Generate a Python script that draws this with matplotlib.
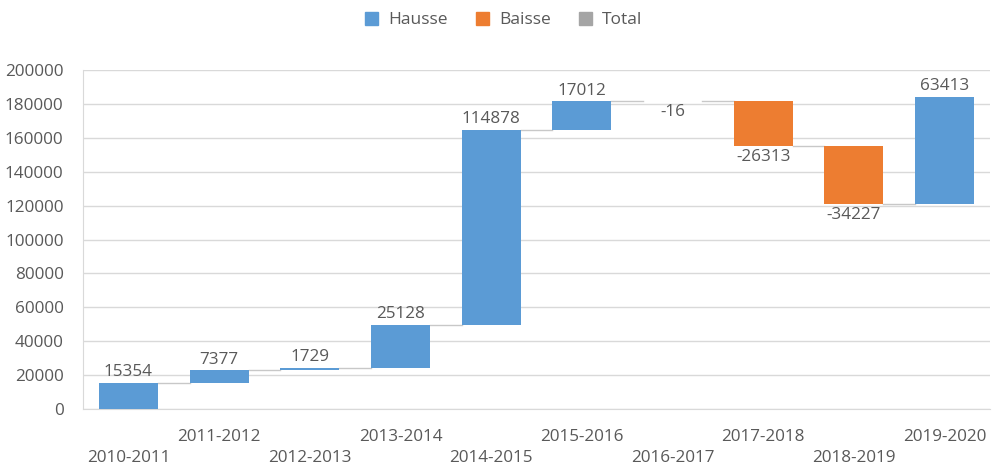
import matplotlib
matplotlib.use("Agg")
import matplotlib.pyplot as plt
from matplotlib.patches import Patch
import numpy as np

categories = ["2010-2011", "2011-2012", "2012-2013", "2013-2014", "2014-2015",
              "2015-2016", "2016-2017", "2017-2018", "2018-2019", "2019-2020"]
changes = [15354, 7377, 1729, 25128, 114878, 17012, -16, -26313, -34227, 63413]
yticks = [0, 20000, 40000, 60000, 80000, 100000, 120000, 140000, 160000, 180000, 200000]

BLUE = "#5B9BD5"
ORANGE = "#ED7D31"
GRAY = "#A5A5A5"
TXT = "#595959"
GRID = "#D9D9D9"

plt.rcParams['font.family'] = ['Open Sans', 'DejaVu Sans']

fig = plt.figure(figsize=(9.92, 4.68), dpi=100)
ax = fig.add_axes([83/992, 1 - 409/468, (990-83)/992, (409-70)/468])

x = np.arange(len(categories))
ends = np.cumsum(changes)
starts = ends - np.array(changes)
w = 0.65
colors = [BLUE if c >= 0 else ORANGE for c in changes]
ax.bar(x, changes, bottom=starts, width=w, color=colors, zorder=3)

# connectors
for i in range(len(categories) - 1):
    ax.plot([x[i] + w/2, x[i+1] - w/2], [ends[i], ends[i]], color="#C8C8C8", lw=1.0, zorder=2)

# labels
for i, c in enumerate(changes):
    if c >= 0:
        ax.annotate(f"{c}", (x[i], ends[i]), xytext=(0, 2), textcoords="offset points",
                    ha="center", va="bottom", fontsize=12.3, color=TXT)
    else:
        ax.annotate(f"{c}", (x[i], ends[i]), xytext=(0, -2), textcoords="offset points",
                    ha="center", va="top", fontsize=12.3, color=TXT)

ax.set_xlim(-0.5, len(categories) - 0.5)
ax.set_ylim(0, 200000)
ax.set_yticks(yticks)
ax.set_yticklabels([str(v) for v in yticks])
ax.tick_params(axis="y", length=0, pad=14, labelsize=12.3, labelcolor=TXT)
ax.set_xticks(x)
ax.set_xticklabels([])
ax.tick_params(axis="x", length=0)
for i, lab in enumerate(categories):
    yoff = -49 if i % 2 == 0 else -28
    ax.annotate(lab, (x[i], 0), xytext=(0, yoff), textcoords="offset pixels",
                ha="center", va="center", fontsize=12.3, color=TXT, annotation_clip=False)

ax.grid(axis="y", color=GRID, lw=1, zorder=0)
for s in ["top", "right"]:
    ax.spines[s].set_visible(False)
ax.spines["left"].set_color(GRID)
ax.spines["bottom"].set_color(GRID)

handles = [Patch(color=BLUE, label="Hausse"), Patch(color=ORANGE, label="Baisse"),
           Patch(color=GRAY, label="Total")]
leg = fig.legend(handles=handles, loc="center", bbox_to_anchor=(0.508, 1 - 20/468), ncol=3,
                 frameon=False, fontsize=12.5, handlelength=0.75, handleheight=0.75,
                 columnspacing=1.6, handletextpad=0.6)
for t in leg.get_texts():
    t.set_color(TXT)

fig.savefig("out.png", dpi=100)
